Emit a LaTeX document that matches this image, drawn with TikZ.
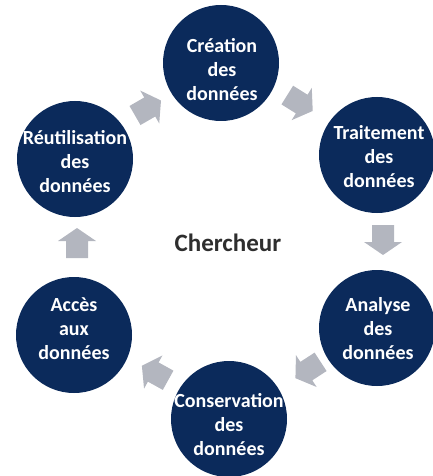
\documentclass[tikz,border=0pt]{standalone}
\usepackage{fontspec}
\setmainfont{Carlito}
\usetikzlibrary{calc}
\definecolor{navy}{HTML}{0B2A5B}
\definecolor{arrowgray}{HTML}{B3B6BF}
\definecolor{centertext}{HTML}{2E2E2E}
\tikzset{
  stagecircle/.style={circle, fill=navy, minimum size=116pt, inner sep=0pt},
  stagetext/.style={text=white, align=center, inner sep=0pt,
    font=\bfseries\fontsize{20}{24}\selectfont},
  blockarrow/.pic={
    \fill[arrowgray] (-15,-11) -- (2,-11) -- (2,-19) -- (15,0) -- (2,19) -- (2,11) -- (-15,11) -- cycle;
  }
}
\begin{document}
\begin{tikzpicture}[x=1pt,y=-1pt]
\useasboundingbox (0,0) rectangle (433,476);
\clip (0,0) rectangle (433,476);
\node[stagecircle] (c1) at (221,63) {};
\node[stagecircle] (c2) at (377,155) {};
\node[stagecircle] (c3) at (377,328) {};
\node[stagecircle] (c4) at (229,419) {};
\node[stagecircle] (c5) at (74,335) {};
\node[stagecircle] (c6) at (75,159) {};
\node[stagetext] (t1) at (222,70) {Création\\des\\données};
\node[stagetext] (t2) at (379,157) {Traitement\\des\\données};
\node[stagetext] (t3) at (378,329) {Analyse\\des\\données};
\node[stagetext] (t4) at (229,425) {Conservation\\des\\données};
\node[stagetext] (t5) at (74,329) {Accès\\aux\\données};
\node[stagetext] (t6) at (75,162) {Réutilisation\\des\\données};
\node[text=centertext, font=\bfseries\fontsize{25}{30}\selectfont] (center) at (228,243) {Chercheur};
\pic[rotate=30] at (148,108) {blockarrow};
\pic[rotate=-32] at (300,103) {blockarrow};
\pic[rotate=-90] at (383,240) {blockarrow};
\pic[rotate=213] at (308,370) {blockarrow};
\pic[rotate=151] at (155,373) {blockarrow};
\pic[rotate=90] at (77,243) {blockarrow};
\end{tikzpicture}
\end{document}
